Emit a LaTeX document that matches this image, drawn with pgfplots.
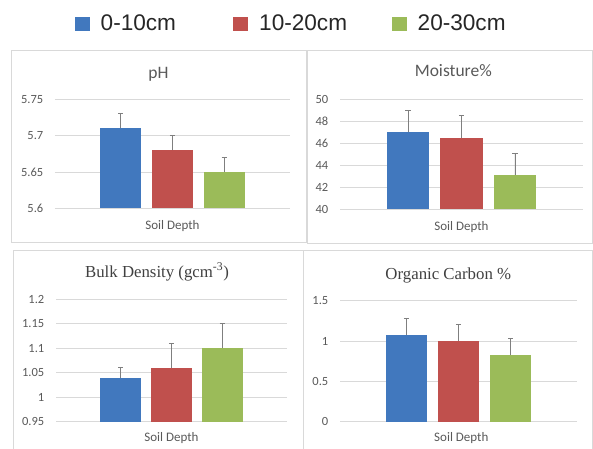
\documentclass[border=0pt]{standalone}
\usepackage{fontspec}
\setmainfont{Carlito}
\newfontfamily\serifT{Liberation Serif}
\newfontfamily\arialT{Liberation Sans}
\usepackage{pgfplots}
\pgfplotsset{compat=1.18}
\definecolor{c1}{HTML}{4178BE}
\definecolor{c2}{HTML}{C0504D}
\definecolor{c3}{HTML}{9BBB59}
\definecolor{gridgray}{HTML}{D9D9D9}
\definecolor{panelgray}{HTML}{D9D9D9}
\definecolor{textgray}{HTML}{595959}
\definecolor{errgray}{HTML}{7F7F7F}
\definecolor{titlegray}{HTML}{404040}
\pgfplotsset{
  panel/.style={
    scale only axis,
    xmin=0, xmax=1,
    xtick=\empty,
    axis line style={draw=none},
    major tick length=0pt,
    ymajorgrids,
    grid style={draw=gridgray, line width=0.8pt},
    /pgf/number format/assume math mode=true,
    yticklabel style={font=\fontsize{12.5}{14}\selectfont, text=textgray, inner sep=0pt, anchor=east, xshift=-11.5pt},
  },
  bars/.style={ybar, bar width=0.175, bar shift=0pt, fill=#1, draw=none,
    error bars/.cd, y dir=plus, y explicit,
    error bar style={errgray, line width=0.9pt},
    error mark options={errgray, line width=0.9pt, mark size=2.6pt, rotate=90}},
}
\begin{document}
\begin{tikzpicture}[x=1pt,y=1pt]
\useasboundingbox (0,0) rectangle (593,-448);
% panel frames
\draw[panelgray, line width=0.9pt] (11,-50) rectangle (306,-242);
\draw[panelgray, line width=0.9pt] (307,-50) rectangle (592.5,-243);
\draw[panelgray, line width=0.9pt] (13,-250) rectangle (303.3,-450);
\draw[panelgray, line width=0.9pt] (303.3,-250) rectangle (592.5,-450);

% ---- pH
\begin{axis}[panel, at={(55pt,-208.3pt)}, anchor=south west, width=235pt, height=109pt,
  ymin=5.6, ymax=5.75, ytick={5.6,5.65,5.7,5.75}]
\addplot[bars=c1] coordinates {(0.28,5.71) +- (0,0.02)};
\addplot[bars=c2] coordinates {(0.50,5.68) +- (0,0.02)};
\addplot[bars=c3] coordinates {(0.72,5.65) +- (0,0.02)};
\end{axis}
\node[anchor=base, text=textgray, font=\fontsize{17.5}{20}\selectfont] at (158.5,-78) {pH};
\node[anchor=base, text=textgray, font=\fontsize{13}{15}\selectfont] at (172.5,-229) {Soil Depth};

% ---- Moisture
\begin{axis}[panel, at={(340pt,-209.3pt)}, anchor=south west, width=243pt, height=110pt,
  ymin=40, ymax=50, ytick={40,42,44,46,48,50}]
\addplot[bars=c1] coordinates {(0.28,47.0) +- (0,2)};
\addplot[bars=c2] coordinates {(0.50,46.5) +- (0,2)};
\addplot[bars=c3] coordinates {(0.72,43.1) +- (0,2)};
\end{axis}
\node[anchor=base, text=textgray, font=\fontsize{17.5}{20}\selectfont] at (453.3,-76.7) {Moisture\%};
\node[anchor=base, text=textgray, font=\fontsize{13}{15}\selectfont] at (461.5,-230) {Soil Depth};

% ---- Bulk density
\begin{axis}[panel, at={(56pt,-421.7pt)}, anchor=south west, width=231pt, height=122.7pt,
  ymin=0.95, ymax=1.2, ytick={0.95,1,1.05,1.1,1.15,1.2}]
\addplot[bars=c1] coordinates {(0.28,1.04) +- (0,0.02)};
\addplot[bars=c2] coordinates {(0.50,1.06) +- (0,0.05)};
\addplot[bars=c3] coordinates {(0.72,1.10) +- (0,0.05)};
\end{axis}
\node[anchor=base, text=titlegray, font=\serifT\fontsize{16.8}{19}\selectfont] at (157,-277) {Bulk Density (gcm\textsuperscript{-3})};
\node[anchor=base, text=textgray, font=\fontsize{13}{15}\selectfont] at (171.5,-441) {Soil Depth};

% ---- Organic carbon
\begin{axis}[panel, at={(340pt,-421.7pt)}, anchor=south west, width=237pt, height=121pt,
  ymin=0, ymax=1.5, ytick={0,0.5,1,1.5}]
\addplot[bars=c1] coordinates {(0.28,1.08) +- (0,0.2)};
\addplot[bars=c2] coordinates {(0.50,1.00) +- (0,0.2)};
\addplot[bars=c3] coordinates {(0.72,0.83) +- (0,0.2)};
\end{axis}
\node[anchor=base, text=titlegray, font=\serifT\fontsize{16.8}{19}\selectfont] at (448.3,-279.3) {Organic Carbon \%};
\node[anchor=base, text=textgray, font=\fontsize{13}{15}\selectfont] at (461.3,-441) {Soil Depth};

% ---- legend
\begin{axis}[at={(0pt,-448pt)}, anchor=south west, scale only axis, width=593pt, height=448pt,
  hide axis, xmin=0, xmax=1, ymin=0, ymax=1,
  legend columns=3,
  legend image code/.code={\fill[#1] (0pt,-7pt) rectangle (15pt,7pt);},
  legend style={at={(75/593,1-23.7/448)}, anchor=west, draw=none, fill=none,
    inner sep=0pt, outer sep=0pt,
    font=\arialT\fontsize{22.6}{26}\selectfont, text=black!85,
    nodes={inner sep=0pt, outer sep=0pt},
    /tikz/every odd column/.append style={column sep=10.7pt},
    /tikz/every even column/.append style={column sep=0pt}},
  legend cell align=left]
\addlegendimage{fill=c1, draw=none}
\addlegendentry{\makebox[132.8pt][l]{0-10cm}}
\addlegendimage{fill=c2, draw=none}
\addlegendentry{\makebox[132.8pt][l]{10-20cm}}
\addlegendimage{fill=c3, draw=none}
\addlegendentry{20-30cm}
\end{axis}
\end{tikzpicture}
\end{document}
